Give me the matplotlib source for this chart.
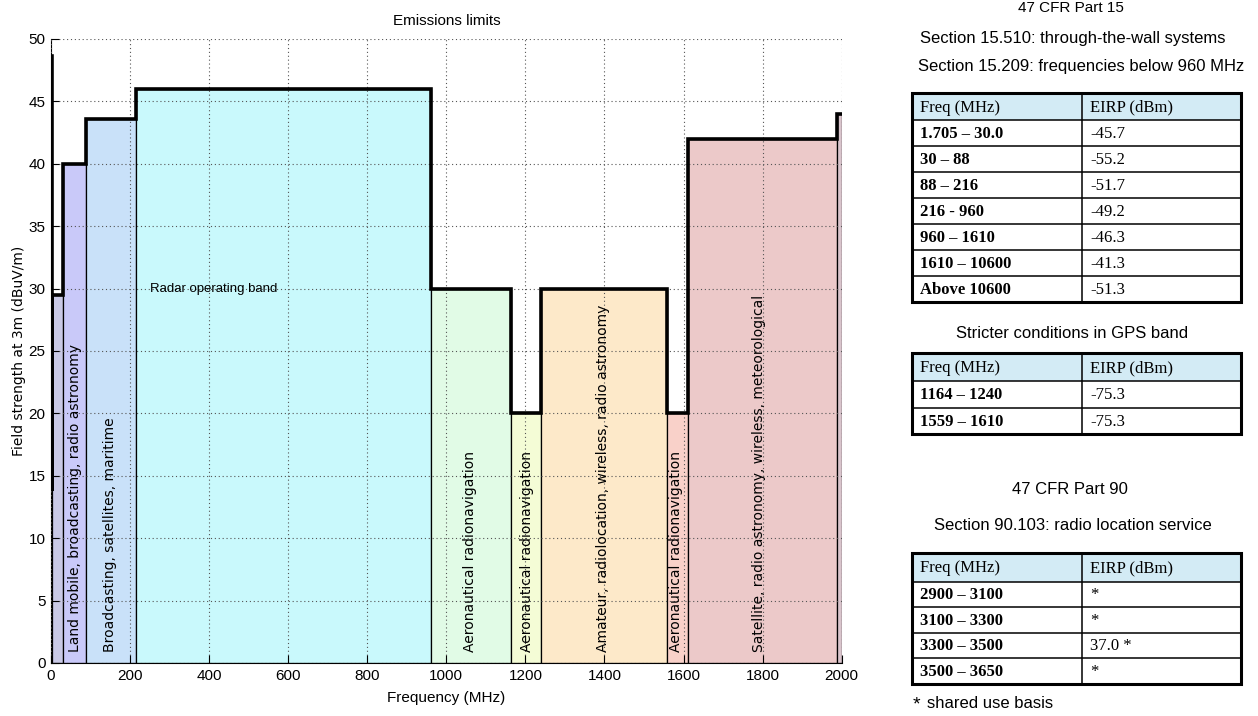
import matplotlib.pyplot as plt
from matplotlib.patches import Rectangle

# band edges (MHz), limit (dBuV/m), colours and labels
band_lo = [1.705, 30, 88, 216, 960, 1164, 1240, 1559, 1610, 1988]
band_hi = [30, 88, 216, 960, 1164, 1240, 1559, 1610, 1988, 2000]
band_lim = [29.5, 40.0, 43.6, 46.0, 30.0, 20.0, 30.0, 20.0, 42.0, 44.0]
band_col = ['#c9c9e6', '#c9c9f9', '#c9e1f9', '#c9f9fc', '#e1fbe6',
            '#f4fcd6', '#fde9c9', '#f9d1c9', '#ecc9c9', '#d9c4cc']

low_x = [1.705, 1.705]
low_y = [48.6, 13.8]

labels = ['Land mobile, broadcasting, radio astronomy',
          'Broadcasting, satellites, maritime',
          'Aeronautical radionavigation',
          'Aeronautical radionavigation',
          'Amateur, radiolocation, wireless, radio astronomy',
          'Aeronautical radionavigation',
          'Satellite, radio astronomy, wireless, meteorological']
label_x = [60, 149, 1061, 1203, 1397, 1581, 1792]

# tables on the right
t1_freq = ['1.705 – 30.0', '30 – 88', '88 – 216', '216 - 960', '960 – 1610',
           '1610 – 10600', 'Above 10600']
t1_eirp = ['-45.7', '-55.2', '-51.7', '-49.2', '-46.3', '-41.3', '-51.3']
t2_freq = ['1164 – 1240', '1559 – 1610']
t2_eirp = ['-75.3', '-75.3']
t3_freq = ['2900 – 3100', '3100 – 3300', '3300 – 3500', '3500 – 3650']
t3_eirp = ['*', '*', '37.0 *', '*']

sans = ['Liberation Sans', 'DejaVu Sans']

fig = plt.figure(figsize=(12.58, 7.16), dpi=100)
ax = fig.add_axes([51 / 1258, 53 / 716, 790.7 / 1258, 624 / 716])

for lo, hi, lim, c in zip(band_lo, band_hi, band_lim, band_col):
    ax.add_patch(Rectangle((lo, 0), hi - lo, lim, facecolor=c,
                           edgecolor='black', linewidth=0.9, zorder=1))

# limit line
sx = low_x + [low_x[-1]]
sy = low_y + [band_lim[0]]
for lo, hi, lim in zip(band_lo, band_hi, band_lim):
    sx += [lo, hi]
    sy += [lim, lim]
ax.plot(sx, sy, color='black', linewidth=2.6, zorder=4,
        solid_joinstyle='miter')

for txt, x in zip(labels, label_x):
    ax.text(x, 0.9, txt, rotation=90, ha='center', va='bottom',
            fontsize=10, family='DejaVu Sans', zorder=5)
ax.text(250, 30, 'Radar operating band', ha='left', va='center',
        fontsize=9.5, family=sans, zorder=5)

ax.set_xlim(0, 2000)
ax.set_ylim(0, 50)
ax.set_xticks(range(0, 2001, 200))
ax.set_yticks(range(0, 51, 5))
ax.grid(True, linestyle=(0, (1, 2.5)), color='#555555', linewidth=0.8)
ax.set_axisbelow(False)
for gl in ax.get_xgridlines() + ax.get_ygridlines():
    gl.set_zorder(3)
ax.spines['top'].set_visible(False)
ax.spines['right'].set_visible(False)
ax.tick_params(direction='in', length=6, labelsize=11, pad=4)
for lb in ax.get_xticklabels() + ax.get_yticklabels():
    lb.set_family(sans)
ax.set_title('Emissions limits', fontsize=11, family=sans, pad=10)
ax.set_xlabel('Frequency (MHz)', fontsize=11, family=sans, labelpad=6)
ax.set_ylabel('Field strength at 3m (dBuV/m)', fontsize=10,
              family='DejaVu Sans', labelpad=2)

# right panel drawn in pixel coordinates
pan = fig.add_axes([0, 0, 1, 1], facecolor='none')
pan.set_xlim(0, 1258)
pan.set_ylim(716, 0)
pan.axis('off')

hdr_col = '#d3ebf5'


def draw_table(top, hdr_h, row_h, freq, eirp):
    left, mid, right = 912, 1082, 1241
    pan.add_patch(Rectangle((left, top), right - left, hdr_h,
                            facecolor=hdr_col, edgecolor='none'))
    y = top
    heights = [hdr_h] + [row_h] * len(freq)
    texts = [('Freq (MHz)', 'EIRP (dBm)')] + list(zip(freq, eirp))
    for i, (h, (a, b)) in enumerate(zip(heights, texts)):
        wt = 'normal' if i == 0 else 'bold'
        pan.text(left + 8, y + h / 2 + 1, a, ha='left', va='center',
                 fontsize=12, family='Liberation Serif', weight=wt)
        pan.text(mid + 8, y + h / 2 + 1, b, ha='left', va='center',
                 fontsize=12, family='Liberation Serif')
        y += h
        if i < len(heights) - 1:
            pan.plot([left, right], [y, y], color='black', linewidth=1.1)
    pan.plot([mid, mid], [top, y], color='black', linewidth=1.1)
    pan.add_patch(Rectangle((left, top), right - left, y - top,
                            facecolor='none', edgecolor='black',
                            linewidth=2.2))


pan.text(1071, 1, '47 CFR Part 15', ha='center', va='top', fontsize=11,
         family=sans)
pan.text(1073, 39, 'Section 15.510: through-the-wall systems', ha='center',
         va='center', fontsize=12, family=sans)
pan.text(1081, 67, 'Section 15.209: frequencies below 960 MHz', ha='center',
         va='center', fontsize=12, family=sans)
draw_table(93, 27, 26, t1_freq, t1_eirp)

pan.text(1072, 333, 'Stricter conditions in GPS band', ha='center',
         va='center', fontsize=12, family=sans)
draw_table(353, 28, 26.5, t2_freq, t2_eirp)

pan.text(1070, 490, '47 CFR Part 90', ha='center', va='center', fontsize=12,
         family=sans)
pan.text(1073, 525, 'Section 90.103: radio location service', ha='center',
         va='center', fontsize=12, family=sans)
draw_table(553, 28.5, 25.5, t3_freq, t3_eirp)

pan.text(913, 705, '*', ha='left', va='center', fontsize=14, family=sans)
pan.text(927, 703, 'shared use basis', ha='left', va='center', fontsize=12,
         family=sans)

fig.savefig('out.png', dpi=100)
